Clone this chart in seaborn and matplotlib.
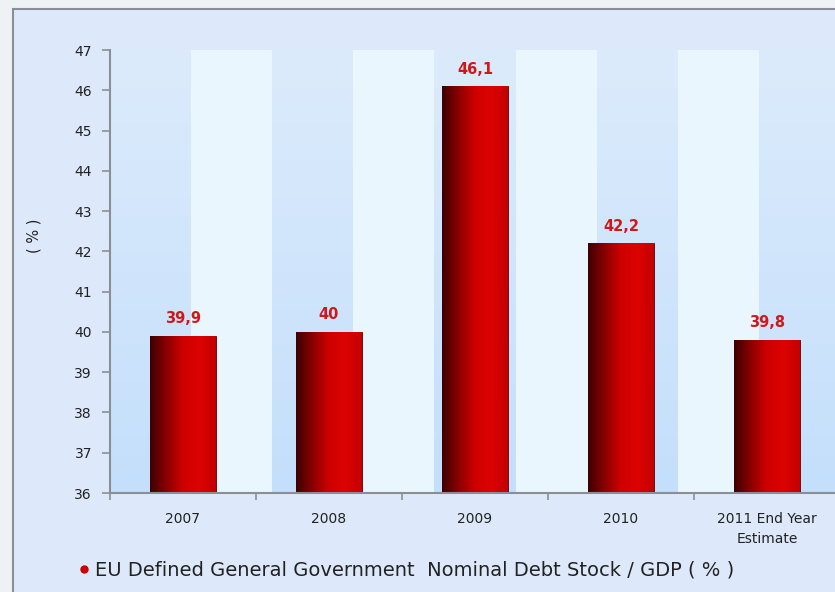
import numpy as np
import pandas as pd
import matplotlib
matplotlib.use("Agg")
import matplotlib.pyplot as plt
import seaborn as sns
from matplotlib.colors import LinearSegmentedColormap
from matplotlib.lines import Line2D
from matplotlib.patches import Rectangle

# data
years = ["2007", "2008", "2009", "2010", "2011 End Year\nEstimate"]
debt_ratio = [39.9, 40.0, 46.1, 42.2, 39.8]
value_labels = ["39,9", "40", "46,1", "42,2", "39,8"]
y_ticks = list(range(36, 48))
legend_text = "EU Defined General Government  Nominal Debt Stock / GDP ( % )"

df = pd.DataFrame({"year": years, "ratio": debt_ratio})

sns.set_theme(style="white")
plt.rcParams["font.family"] = ["DejaVu Sans"]

fig = plt.figure(figsize=(8.35, 5.92), dpi=100)
fig.patch.set_facecolor("#eef2f5")

# light blue panel with grey border (top/left)
panel = Rectangle((13 / 835, -0.05), 1.1, 1.05 - 9 / 592, transform=fig.transFigure,
                  facecolor="#dde9fa", edgecolor="#8a8f96", linewidth=1.5, zorder=-5)
fig.patches.append(panel)

ax = fig.add_axes([110 / 835, 1 - 493 / 592, 730 / 835, 443 / 592])
ax.set_facecolor("none")
ax.set_zorder(2)

sns.barplot(data=df, x="year", y="ratio", ax=ax, color="#cc0000",
            width=0.45, edgecolor="#5a0000", linewidth=0.6, zorder=3)

# alternating vertical background bands
blue_cmap = LinearSegmentedColormap.from_list("bluegrad", ["#c4dffb", "#dcebfc"])
vgrad = np.linspace(0, 1, 256).reshape(-1, 1)
band_w = 5 / 9
for i in range(9):
    x0 = -0.5 + i * band_w
    if i % 2 == 0:
        ax.imshow(vgrad, extent=[x0, x0 + band_w, 36, 47], origin="lower",
                  cmap=blue_cmap, aspect="auto", zorder=0)
    else:
        ax.axvspan(x0, x0 + band_w, color="#eaf6fe", zorder=0, lw=0)

# horizontal gradient on each bar
bar_cmap = LinearSegmentedColormap.from_list(
    "redgrad", [(0, "#3c0000"), (0.25, "#8a0000"), (0.5, "#cf0000"),
                (0.75, "#dc0303"), (1, "#c40000")])
hgrad = np.linspace(0, 1, 256).reshape(1, -1)
for p in ax.patches[:len(years)]:
    x, w, h = p.get_x(), p.get_width(), p.get_height()
    im = ax.imshow(hgrad, extent=[x, x + w, 36, h], cmap=bar_cmap,
                   aspect="auto", zorder=3.5)
    im.set_clip_path(p)

ax.set_xlim(-0.5, 4.5)
ax.set_ylim(36, 47)

ax.bar_label(ax.containers[0], labels=value_labels, padding=7,
             color="#d01818", fontsize=10.5, fontweight="bold")

ax.set_yticks(y_ticks)
ax.set_xlabel("")
ax.set_ylabel("( % )", fontsize=10.5, color="#222222")
ax.yaxis.set_label_coords(-69 / 730, 0.58)

ax.set_xticks(range(len(years)))
ax.set_xticklabels(years, linespacing=1.5)
ax.set_xticks([-0.5, 0.5, 1.5, 2.5, 3.5], minor=True)
ax.tick_params(axis="x", which="major", length=0, pad=14, labelsize=10, labelcolor="#222222")
ax.tick_params(axis="x", which="minor", bottom=True, length=5, width=1.2,
               color="#8a8f96", direction="out")
ax.tick_params(axis="y", length=6, width=1.2, color="#8a8f96", direction="out",
               pad=7, labelsize=10, labelcolor="#222222", left=True)

for side in ["top", "right"]:
    ax.spines[side].set_visible(False)
for side in ["left", "bottom"]:
    ax.spines[side].set_color("#8a8f96")
    ax.spines[side].set_linewidth(1.5)
    ax.spines[side].set_zorder(5)

handle = Line2D([], [], marker="o", linestyle="none", color="#cc0000",
                markersize=5)
fig.legend([handle], [legend_text], loc="center left",
           bbox_to_anchor=(70 / 835, 1 - 570 / 592), frameon=False,
           fontsize=14, handlelength=0.6, handletextpad=0.3,
           labelcolor="#222222", borderaxespad=0)

fig.savefig("out.png", dpi=100, facecolor=fig.get_facecolor())
